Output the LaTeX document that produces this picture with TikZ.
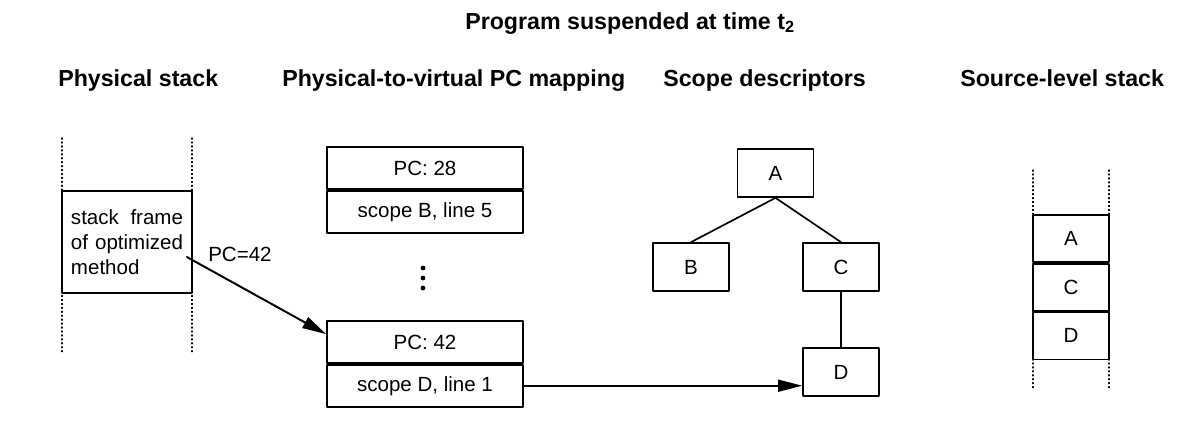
\documentclass[tikz,border=0pt]{standalone}
\usepackage{fontspec}
\setmainfont{Liberation Sans}
\usepackage{pgf,tikz}
\usetikzlibrary{arrows.meta}
\usetikzlibrary{calc}

\begin{document}
\begin{tikzpicture}[line cap=round,line join=round,x=0.025cm,y=-0.025cm,
  >={Triangle[length=0.6cm,width=0.3cm]},
  box/.style={draw,line width=1.2pt,inner sep=0pt,font=\fontsize{14.6}{17.7}\selectfont},
  pcbox/.style={box,minimum width=4.9cm,minimum height=1.05cm},
  scbox/.style={box,minimum width=1.9cm,minimum height=1.2cm},
  stbox/.style={box,minimum width=1.9cm,minimum height=1.175cm},
  heading/.style={anchor=base west,inner sep=0pt,font=\fontsize{16.5}{19}\selectfont\bfseries},
  wall/.style={dotted,line width=0.8pt}]
\useasboundingbox (0,0) rectangle (1187,435);
% titles
\node[heading] (title) at (465,29) {Program suspended at time t\textsubscript{2}};
\node[heading] (hphys) at (58,86) {Physical stack};
\node[heading] (hmap) at (282,86) {Physical-to-virtual PC mapping};
\node[heading] (hscope) at (663,86) {Scope descriptors};
\node[heading] (hsrc) at (960,86) {Source-level stack};
% physical stack
\draw[wall] (62,138) -- (62,352);
\draw[wall] (192,138) -- (192,352);
\node[box,minimum width=3.25cm,minimum height=2.55cm,text width=2.8cm,align=justify] (frame) at (127,242) {stack frame of optimized method};
% pc mapping
\node[pcbox] (pc28) at (425,168) {PC: 28};
\node[pcbox,anchor=north] (sb5) at (pc28.south) {scope B, line 5};
\foreach \y in {268,278,288}
  \fill (423,\y) circle (2.4);
\node[pcbox] (pc42) at (425,342) {PC: 42};
\node[pcbox,anchor=north] (sd1) at (pc42.south) {scope D, line 1};
% scope tree
\node[scbox] (A) at (775.5,173) {A};
\node[scbox] (B) at (691,267) {B};
\node[scbox] (C) at (841,267) {C};
\node[scbox] (D) at (841,372) {D};
\draw[line width=1.2pt] (A.south) -- (B.north);
\draw[line width=1.2pt] (A.south) -- (C.north);
\draw[line width=1.2pt] (C.south) -- (D.north);
% source-level stack
\draw[wall] (1033,170) -- (1033,390);
\draw[wall] (1109,170) -- (1109,390);
\node[stbox] (sA) at (1071,238.5) {A};
\node[stbox,anchor=north] (sC) at (sA.south) {C};
\node[stbox,anchor=north] (sD) at (sC.south) {D};
% arrows
\draw[->,line width=1.4pt] ($(frame.east)+(-6,15)$) -- ($(pc42.north west)+(0,14)$);
\node[anchor=base west,inner sep=0pt,font=\fontsize{14.6}{17.7}\selectfont] (pclabel) at (208,261) {PC=42};
\draw[->,line width=1.2pt] (sd1.east) -- (sd1.east -| D.west);
\end{tikzpicture}
\end{document}
